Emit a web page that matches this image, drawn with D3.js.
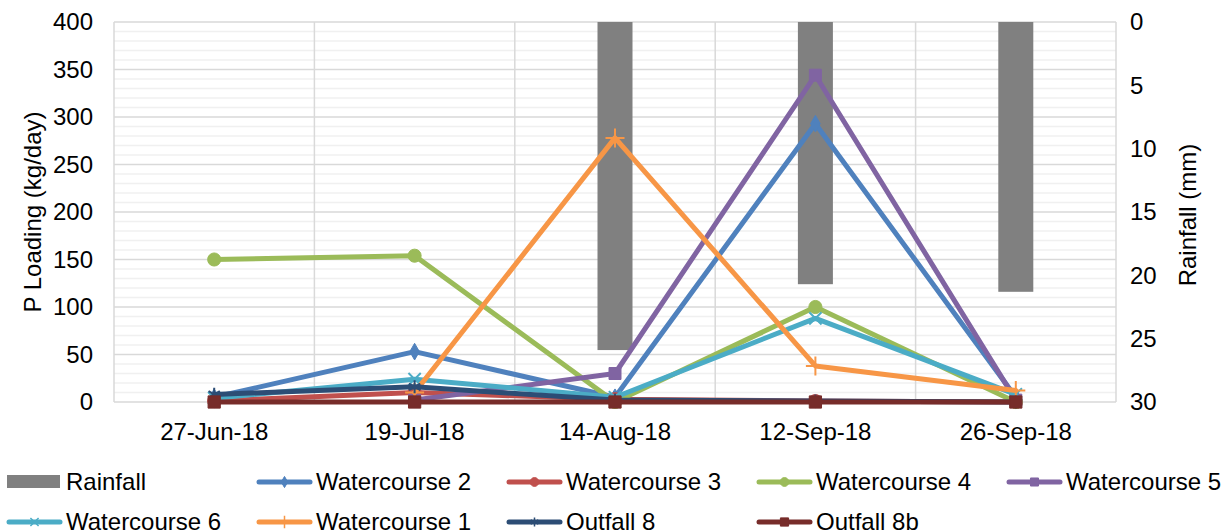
<!DOCTYPE html>
<html>
<head>
<meta charset="utf-8">
<script src="https://cdn.jsdelivr.net/npm/d3@7"></script>
<style>
  body { margin: 0; background: #fff; }
  svg text { font-family: "Liberation Sans", Arial, sans-serif; fill: #000; }
</style>
</head>
<body>
<svg width="1221" height="531"></svg>
<script>
// data
const dates = ['27-Jun-18', '19-Jul-18', '14-Aug-18', '12-Sep-18', '26-Sep-18'];
const rainfall = [null, null, 25.9, 20.7, 21.3];
const watercourse2 = [5, 53, 5, 293, 5];
const watercourse3 = [1, 10, 3, 1, 0];
const watercourse4 = [150, 154, 0, 100, 0];
const watercourse5 = [null, 2, 30, 344, 2];
const watercourse6 = [4, 24, 5, 88, 8];
const watercourse1 = [null, 10, 278, 38, 12];
const outfall8 = [8, 16, 2, 1, 0];
const outfall8b = [0, 0, 0, 0, 0];
const leftTicks = [0, 50, 100, 150, 200, 250, 300, 350, 400];
const rightTicks = [0, 5, 10, 15, 20, 25, 30];

const series = [
  { name: 'Watercourse 2', values: watercourse2, color: '#4F81BD', symbol: d3.symbolDiamond, size: 80, fill: true },
  { name: 'Watercourse 3', values: watercourse3, color: '#C0504D', symbol: d3.symbolCircle, size: 135, fill: true },
  { name: 'Watercourse 4', values: watercourse4, color: '#9BBB59', symbol: d3.symbolCircle, size: 135, fill: true },
  { name: 'Watercourse 5', values: watercourse5, color: '#8064A2', symbol: d3.symbolSquare, size: 144, fill: true },
  { name: 'Watercourse 6', values: watercourse6, color: '#4BACC6', symbol: d3.symbolX, size: 100, fill: false },
  { name: 'Watercourse 1', values: watercourse1, color: '#F79646', symbol: d3.symbolPlus, size: 120, fill: false },
  { name: 'Outfall 8', values: outfall8, color: '#2C4D75', symbol: d3.symbolAsterisk, size: 120, fill: false },
  { name: 'Outfall 8b', values: outfall8b, color: '#772C2A', symbol: d3.symbolSquare, size: 150, fill: true }
];

const svg = d3.select('svg');
const plotL = 114, plotR = 1116, plotT = 22, plotB = 402;

const x = d3.scaleBand().domain(dates).range([plotL, plotR]);
const cx = d => x(d) + x.bandwidth() / 2;
const y = d3.scaleLinear().domain([0, 400]).range([plotB, plotT]);
const yR = d3.scaleLinear().domain([0, 30]).range([plotT, plotB]);

// gridlines
const grid = svg.append('g');
grid.selectAll('line.minor')
  .data(d3.range(0, 401, 10).filter(v => v % 50 !== 0))
  .enter().append('line')
  .attr('x1', plotL).attr('x2', plotR)
  .attr('y1', d => y(d)).attr('y2', d => y(d))
  .attr('stroke', '#F0F0F0').attr('stroke-width', 1.5);
grid.selectAll('line.major')
  .data(leftTicks)
  .enter().append('line')
  .attr('x1', plotL).attr('x2', plotR)
  .attr('y1', d => y(d)).attr('y2', d => y(d))
  .attr('stroke', '#D9D9D9').attr('stroke-width', 1.5);
grid.selectAll('line.vert')
  .data(dates.concat([null]))
  .enter().append('line')
  .attr('x1', d => d ? x(d) : plotR).attr('x2', d => d ? x(d) : plotR)
  .attr('y1', plotT).attr('y2', plotB)
  .attr('stroke', '#D9D9D9').attr('stroke-width', 1.5);

// rainfall bars hanging from the top
const barW = 35;
svg.append('g')
  .selectAll('rect')
  .data(dates.map((d, i) => ({ date: d, v: rainfall[i] })).filter(d => d.v != null))
  .enter().append('rect')
  .attr('x', d => cx(d.date) - barW / 2)
  .attr('y', yR(0))
  .attr('width', barW)
  .attr('height', d => yR(d.v) - yR(0))
  .attr('fill', '#808080');

// lines
const line = d3.line()
  .defined(d => d.v != null)
  .x(d => cx(d.date))
  .y(d => y(d.v));

series.forEach(s => {
  const pts = dates.map((d, i) => ({ date: d, v: s.values[i] }));
  const g = svg.append('g');
  g.append('path')
    .datum(pts)
    .attr('d', line)
    .attr('fill', 'none')
    .attr('stroke', s.color)
    .attr('stroke-width', 5)
    .attr('stroke-linejoin', 'round')
    .attr('stroke-linecap', 'round');
  g.selectAll('path.mk')
    .data(pts.filter(d => d.v != null))
    .enter().append('path')
    .attr('transform', d => `translate(${cx(d.date)},${y(d.v)})`)
    .attr('d', d3.symbol(s.symbol, s.size))
    .attr('fill', s.fill ? s.color : 'none')
    .attr('stroke', s.color)
    .attr('stroke-width', s.fill ? 1 : 2);
});

// axes
const fs = '24px';
const axL = svg.append('g')
  .attr('transform', `translate(${plotL},0)`)
  .call(d3.axisLeft(y).tickValues(leftTicks).tickSize(0).tickPadding(21));
const axR = svg.append('g')
  .attr('transform', `translate(${plotR},0)`)
  .call(d3.axisRight(yR).tickValues(rightTicks).tickSize(0).tickPadding(14));
const axB = svg.append('g')
  .attr('transform', `translate(0,${plotB})`)
  .call(d3.axisBottom(x).tickSize(0).tickPadding(21));
[axL, axR, axB].forEach(a => {
  a.select('.domain').remove();
  a.selectAll('text').style('font-size', fs).attr('fill', '#000');
});

svg.append('text')
  .attr('transform', 'translate(41,212) rotate(-90)')
  .attr('text-anchor', 'middle')
  .style('font-size', fs)
  .text('P Loading (kg/day)');
svg.append('text')
  .attr('transform', 'translate(1196,215) rotate(-90)')
  .attr('text-anchor', 'middle')
  .style('font-size', fs)
  .text('Rainfall (mm)');

// legend
const legendItems = [{ name: 'Rainfall', bar: true }].concat(series);
const legend = svg.append('g');
legendItems.forEach((s, i) => {
  const col = i % 5, row = Math.floor(i / 5);
  const lx = 7 + col * 250, ly = row === 0 ? 482 : 522;
  const g = legend.append('g').attr('transform', `translate(${lx},${ly})`);
  if (s.bar) {
    g.append('rect').attr('x', 0).attr('y', -7).attr('width', 53).attr('height', 13).attr('fill', '#808080');
  } else {
    g.append('line').attr('x1', 2).attr('x2', 53).attr('y1', 0).attr('y2', 0)
      .attr('stroke', s.color).attr('stroke-width', 5).attr('stroke-linecap', 'round');
    g.append('path')
      .attr('transform', 'translate(27.5,0)')
      .attr('d', d3.symbol(s.symbol, s.size * 0.45))
      .attr('fill', s.fill ? s.color : 'none')
      .attr('stroke', s.color)
      .attr('stroke-width', s.fill ? 1 : 1.5);
  }
  g.append('text')
    .attr('x', 59)
    .attr('dy', '0.35em')
    .style('font-size', fs)
    .text(s.name);
});
</script>
</body>
</html>
